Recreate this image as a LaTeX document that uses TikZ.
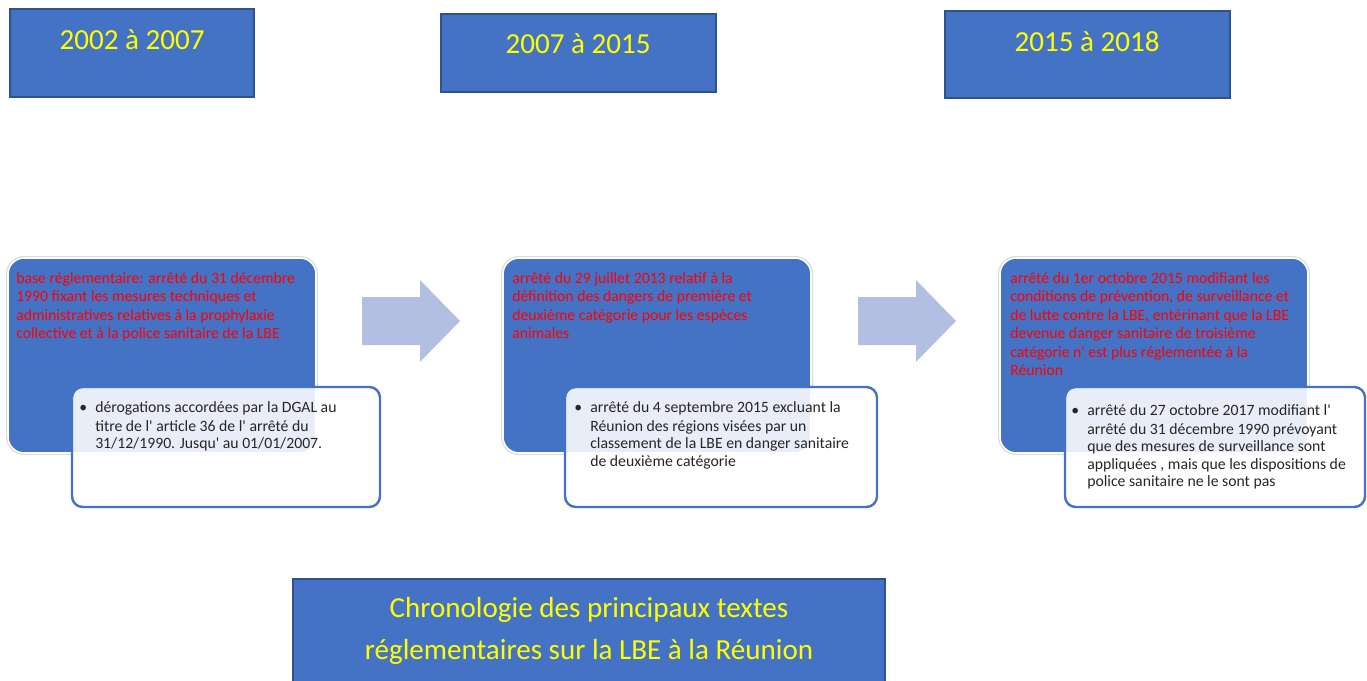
\documentclass[tikz,border=0pt]{standalone}
\usepackage{fontspec}
\setmainfont{Carlito}
\usetikzlibrary{positioning}
\definecolor{lbeblue}{HTML}{4472C4}
\definecolor{lbeedge}{HTML}{2F528F}
\definecolor{arrowblue}{RGB}{178,191,226}
\definecolor{lbered}{HTML}{FF0000}
\definecolor{lbeyellow}{HTML}{FFFF00}
\definecolor{notegray}{HTML}{262626}
\tikzset{
  yearbox/.style={rectangle, fill=lbeblue, draw=lbeedge, line width=1.2pt, inner sep=0pt},
  yeartext/.style={text=lbeyellow, font=\fontsize{21.8}{32}\selectfont, align=center, inner sep=0pt},
  panel/.style={rectangle, rounded corners=12pt, fill=lbeblue, draw=white, line width=1.2pt,
    preaction={draw=black!14, line width=3pt}, minimum width=231pt, minimum height=146.25pt},
  notebox/.style={rectangle, rounded corners=8pt, fill=white, fill opacity=0.88, draw=lbeblue,
    draw opacity=1, line width=1.8pt, minimum height=90pt},
  redtext/.style={anchor=north west, inner sep=0pt, align=left, text=lbered,
    font=\fontsize{11.8}{13.9}\selectfont},
  notetext/.style={anchor=north west, inner sep=0pt, align=left, text=notegray,
    font=\fontsize{11.8}{12.8}\selectfont},
  blockarrow/.style={fill=arrowblue}
}
\newcommand{\lbebullet}{\llap{\textbullet\hspace{6pt}}}
\newcommand{\ap}{\textquotesingle}

\begin{document}
\begin{tikzpicture}[x=0.75pt, y=-0.75pt]
  \useasboundingbox (0,0) rectangle (1367,681);

  % periods
  \node[yearbox, minimum width=183pt, minimum height=66pt] (y1) at (132,53) {};
  \node[yearbox, minimum width=206.25pt, minimum height=58.5pt] (y2) at (578.5,53) {};
  \node[yearbox, minimum width=213.75pt, minimum height=65.25pt] (y3) at (1087.5,54.5) {};
  \node[yeartext] (y1t) at (132,40) {2002 à 2007};
  \node[yeartext] (y2t) at (578,44) {2007 à 2015};
  \node[yeartext] (y3t) at (1087,42) {2015 à 2018};

  % block arrows
  \foreach \ax in {362,858}{
    \fill[blockarrow] (\ax,297) -- (\ax+58,297) -- (\ax+58,280) -- (\ax+98,321)
      -- (\ax+58,362) -- (\ax+58,345) -- (\ax,345) -- cycle;
  }

  % main texts
  \node[panel] (p1) at (162,355.5) {};
  \node[panel] (p2) at (657,355.5) {};
  \node[panel] (p3) at (1154,355.5) {};
  \node[redtext] (p1t) at (16,272) {base réglementaire: arrêté du 31 décembre\\
    1990 fixant les mesures techniques et\\
    administratives relatives à la prophylaxie\\
    collective et à la police sanitaire de la LBE};
  \node[redtext] (p2t) at (512,272) {arrêté du 29 juillet 2013 relatif à la\\
    définition des dangers de première et\\
    deuxième catégorie pour les espèces\\
    animales};
  \node[redtext] (p3t) at (1010,272) {arrêté du 1er octobre 2015 modifiant les\\
    conditions de prévention, de surveillance et\\
    de lutte contre la LBE, entérinant que la LBE\\
    devenue danger sanitaire de troisième\\
    catégorie n\ap{} est plus réglementée à la\\
    Réunion};

  % notes
  \node[notebox, minimum width=231pt] (n1) at (226,447) {};
  \node[notebox, minimum width=234pt] (n2) at (721,447) {};
  \node[notebox, minimum width=225pt] (n3) at (1215,447) {};
  \node[notetext] (n1t) at (95,401) {\lbebullet dérogations accordées par la DGAL au\\[2pt]
    titre de l\ap{} article 36 de l\ap{} arrêté du\\
    31/12/1990. Jusqu\ap{} au 01/01/2007.};
  \node[notetext] (n2t) at (590,401) {\lbebullet arrêté du 4 septembre 2015 excluant la\\[2pt]
    Réunion des régions visées par un\\
    classement de la LBE en danger sanitaire\\
    de deuxième catégorie};
  \node[notetext] (n3t) at (1087,404) {\lbebullet arrêté du 27 octobre 2017 modifiant l\ap\\[2pt]
    arrêté du 31 décembre 1990 prévoyant\\
    que des mesures de surveillance sont\\
    appliquées , mais que les dispositions de\\
    police sanitaire ne le sont pas};

  % title
  \node[yearbox, minimum width=444pt, minimum height=90.75pt] (title) at (589,639.5) {};
  \node[yeartext] (titlet) at (589,631) {Chronologie des principaux textes\\
    réglementaires sur la LBE à la Réunion};
\end{tikzpicture}
\end{document}
